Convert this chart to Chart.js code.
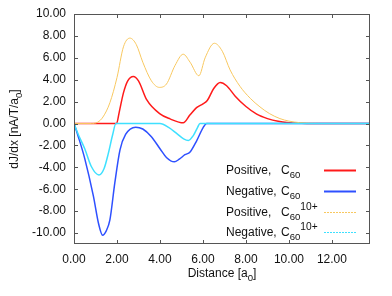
<!DOCTYPE html>
<html>
<head>
<meta charset="utf-8">
<script src="https://cdn.jsdelivr.net/npm/chart.js@4"></script>
<style>
  html, body { margin: 0; padding: 0; background: #fff; }
  #wrap { width: 392px; height: 296px; }
</style>
</head>
<body>
<div id="wrap"><canvas id="graphique"></canvas></div>
<script>
/* dJ/dx le long de la distance, C60 et C60^10+ */

const xTicks = [0, 2, 4, 6, 8, 10, 12];
const yTicks = [-10, -8, -6, -4, -2, 0, 2, 4, 6, 8, 10];

const seriesNames = ["Positive,", "Negative,", "Positive,", "Negative,"];
const seriesSup = ["", "", "10+", "10+"];

const posC60X = [0, 1.0, 1.98, 2.1, 2.3, 2.5, 2.76, 3.0, 3.38, 4.0, 4.47, 5.08, 5.4, 5.7, 6.0, 6.2, 6.5, 6.8, 7.1, 7.5, 8.0, 8.5, 9.0, 9.5, 10.0, 10.5, 11.0, 13.77];
const posC60Y = [0, 0, 0, 1.0, 2.8, 3.9, 4.3, 3.9, 2.18, 0.88, 0.42, 0.06, 0.8, 1.45, 1.8, 2.1, 3.2, 3.75, 3.45, 2.5, 1.55, 0.85, 0.45, 0.2, 0.08, 0.03, 0, 0];

const negC60X = [0, 0.2, 0.5, 0.9, 1.15, 1.33, 1.5, 1.67, 1.9, 2.14, 2.4, 2.87, 3.2, 3.6, 4.0, 4.3, 4.67, 4.9, 5.16, 5.4, 5.7, 6.0, 6.17, 13.77];
const negC60Y = [0, -1.2, -3.2, -6.6, -9.2, -10.2, -9.8, -8.8, -5.4, -2.4, -1.0, -0.33, -0.5, -1.2, -2.3, -3.1, -3.5, -3.25, -2.85, -2.6, -1.6, -0.4, 0, 0];

const posC6010X = [0, 0.8, 1.1, 1.35, 1.67, 2.0, 2.3, 2.6, 2.9, 3.2, 3.6, 3.97, 4.3, 4.7, 5.08, 5.4, 5.81, 6.1, 6.53, 6.9, 7.26, 7.72, 8.2, 8.65, 9.1, 9.58, 10.0, 10.5, 11.0, 11.5, 13.77];
const posC6010Y = [0, 0, 0.12, 0.6, 1.9, 4.2, 7.0, 7.8, 7.2, 5.6, 3.9, 3.3, 3.6, 5.3, 6.33, 5.6, 4.36, 6.0, 7.33, 6.6, 4.9, 3.4, 2.3, 1.52, 0.9, 0.45, 0.22, 0.08, 0.02, 0, 0];

const negC6010X = [0, 0.2, 0.5, 0.8, 1.16, 1.4, 1.6, 1.8, 1.95, 4.0, 4.4, 4.8, 5.1, 5.32, 5.55, 5.75, 5.86, 13.77];
const negC6010Y = [0, -1.0, -2.3, -3.9, -4.7, -4.1, -2.7, -1.0, 0, 0, -0.35, -0.95, -1.4, -1.55, -1.1, -0.35, 0, 0];

const couleurs = ["#ff1a1a", "#2e50ff", "#f8c860", "#3ee0ff"];
const epaisseurs = [1.5, 1.5, 1, 1.5];

function points(xs, ys) {
  return xs.map(function(x, i) { return { x: x, y: ys[i] }; });
}

const police = "Liberation Sans, Arial, sans-serif";
const taille = 12;

// texte avec indice / exposant
function texteIndice(ctx, morceaux, x, y, t0) {
  let cx = x;
  morceaux.forEach(function(m) {
    let t = t0, dy = 0;
    if (m.sub) { t = t0 * 0.8; dy = 4; }
    if (m.sup) { t = t0 * 0.85; dy = -6; }
    ctx.font = t + "px " + police;
    ctx.fillText(m.t, cx, y + dy);
    cx += ctx.measureText(m.t).width;
  });
  return cx - x;
}

function largeur(ctx, morceaux, t0) {
  let w = 0;
  morceaux.forEach(function(m) {
    const t = m.sub ? t0 * 0.8 : (m.sup ? t0 * 0.85 : t0);
    ctx.font = t + "px " + police;
    w += ctx.measureText(m.t).width;
  });
  return w;
}

const decor = {
  id: "decor",
  afterDraw(chart) {
    const ctx = chart.ctx;
    const a = chart.chartArea;
    const sx = chart.scales.x, sy = chart.scales.y;
    ctx.save();
    // cadre
    ctx.strokeStyle = "#555";
    ctx.lineWidth = 1;
    ctx.strokeRect(a.left + 0.5, a.top + 0.5, a.right - a.left - 1, a.bottom - a.top - 1);
    // graduations intérieures
    ctx.beginPath();
    xTicks.forEach(function(v) {
      const p = Math.round(sx.getPixelForValue(v)) + 0.5;
      ctx.moveTo(p, a.bottom); ctx.lineTo(p, a.bottom - 4);
      ctx.moveTo(p, a.top); ctx.lineTo(p, a.top + 4);
    });
    yTicks.forEach(function(v) {
      const p = Math.round(sy.getPixelForValue(v)) + 0.5;
      ctx.moveTo(a.left, p); ctx.lineTo(a.left + 4, p);
      ctx.moveTo(a.right, p); ctx.lineTo(a.right - 4, p);
    });
    ctx.stroke();

    // titres des axes
    ctx.fillStyle = "#111";
    ctx.textBaseline = "alphabetic";
    ctx.textAlign = "left";
    const titreX = [{ t: "Distance [a" }, { t: "0", sub: true }, { t: "]" }];
    const lx = largeur(ctx, titreX, taille);
    texteIndice(ctx, titreX, (a.left + a.right) / 2 - lx / 2, 277, taille);

    const titreY = [{ t: "dJ/dx [nA/T/a" }, { t: "0", sub: true }, { t: "]" }];
    const ly = largeur(ctx, titreY, taille);
    ctx.save();
    ctx.translate(18, (a.top + a.bottom) / 2);
    ctx.rotate(-Math.PI / 2);
    texteIndice(ctx, titreY, -ly / 2, 0, taille);
    ctx.restore();

    // légende
    const rangs = [170, 191, 212, 232];
    seriesNames.forEach(function(nom, i) {
      const y = rangs[i];
      ctx.fillStyle = "#111";
      ctx.font = taille + "px " + police;
      ctx.fillText(nom, 226, y + 4);
      const m = [{ t: "C" }, { t: "60", sub: true }];
      if (seriesSup[i]) { m.push({ t: seriesSup[i], sup: true }); }
      texteIndice(ctx, m, 281, y + 4, taille);
      ctx.strokeStyle = couleurs[i];
      ctx.lineWidth = i < 2 ? 2 : 1;
      ctx.setLineDash(i < 2 ? [] : [2, 1]);
      ctx.beginPath();
      ctx.moveTo(324, y + 0.5); ctx.lineTo(356, y + 0.5);
      ctx.stroke();
      ctx.setLineDash([]);
    });
    ctx.restore();
  }
};

function serie(xs, ys, i) {
  return {
    data: points(xs, ys),
    borderColor: couleurs[i],
    borderWidth: epaisseurs[i],
    pointRadius: 0,
    fill: false,
    tension: 0.4,
    cubicInterpolationMode: "monotone"
  };
}

new Chart(document.getElementById("graphique").getContext("2d"), {
  type: "line",
  data: {
    datasets: [
      serie(negC6010X, negC6010Y, 3),
      serie(posC6010X, posC6010Y, 2),
      serie(negC60X, negC60Y, 1),
      serie(posC60X, posC60Y, 0)
    ]
  },
  options: {
    responsive: true,
    maintainAspectRatio: false,
    animation: false,
    layout: { padding: { left: 0, top: 14, right: 22, bottom: 0 } },
    plugins: { legend: { display: false }, tooltip: { enabled: false } },
    scales: {
      x: {
        type: "linear",
        min: 0,
        max: 13.77,
        grid: { display: false },
        border: { display: false },
        afterBuildTicks: function(s) { s.ticks = xTicks.map(function(v) { return { value: v }; }); },
        afterFit: function(s) { s.height = 52; },
        ticks: {
          color: "#111",
          font: { family: police, size: taille },
          padding: 0,
          maxRotation: 0,
          callback: function(v) { return v.toFixed(2); }
        }
      },
      y: {
        type: "linear",
        min: -11,
        max: 10,
        grid: { display: false },
        border: { display: false },
        afterBuildTicks: function(s) { s.ticks = yTicks.map(function(v) { return { value: v }; }); },
        afterFit: function(s) { s.width = 74; },
        ticks: {
          color: "#111",
          font: { family: police, size: taille },
          padding: 0,
          callback: function(v) { return v.toFixed(2); }
        }
      }
    }
  },
  plugins: [decor]
});
</script>
</body>
</html>
